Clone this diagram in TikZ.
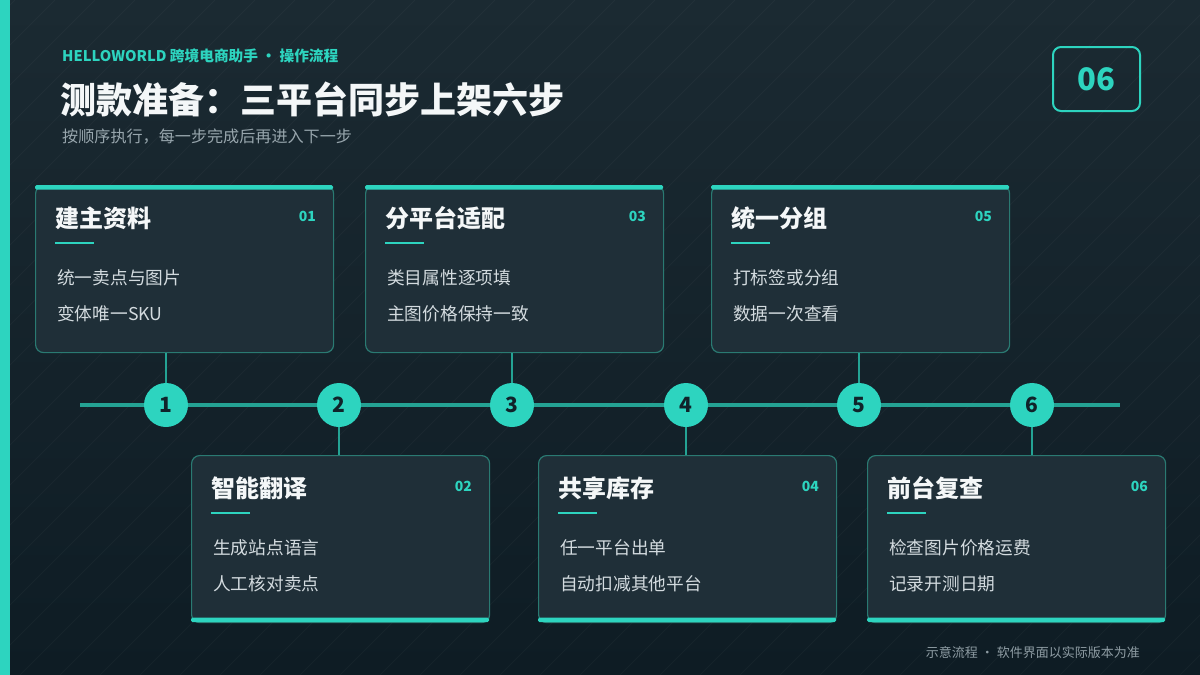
\documentclass[tikz,border=0pt]{standalone}
\usepackage{fontspec}
\setmainfont{Noto Sans CJK SC}
\usetikzlibrary{calc}
\definecolor{accent}{HTML}{2DD4BF}
\definecolor{bgtop}{HTML}{1B2A32}
\definecolor{bgbot}{HTML}{0E1C24}
\definecolor{cardfill}{HTML}{1F2F38}
\definecolor{cardline}{HTML}{2A7A72}
\definecolor{lineteal}{HTML}{24A394}
\definecolor{titlewhite}{HTML}{F4F7F8}
\definecolor{itemtext}{HTML}{D3DBDF}
\definecolor{subgrey}{HTML}{98A6AD}
\definecolor{footgrey}{HTML}{8E9CA3}
\definecolor{dotnum}{HTML}{10232A}
\tikzset{
  card/.style={draw=cardline, fill=cardfill, rounded corners=8pt, line width=1.2pt,
    minimum width=298pt, minimum height=167pt, inner sep=0pt},
  cardtitle/.style={anchor=west, inner sep=0pt, text=titlewhite, font=\bfseries\fontsize{24}{28}\selectfont},
  cardnum/.style={anchor=east, inner sep=0pt, text=accent, font=\bfseries\fontsize{14}{16}\selectfont},
  carditem/.style={anchor=west, inner sep=0pt, text=itemtext, font=\fontsize{17.7}{21}\selectfont},
  underl/.style={draw=accent, line width=2pt},
  dot/.style={circle, fill=accent, minimum size=44pt, inner sep=0pt, text=dotnum,
    font=\bfseries\fontsize{21}{24}\selectfont},
  timeline/.style={draw=lineteal, line width=4pt},
  conn/.style={draw=lineteal, line width=2pt},
  stripe/.style={draw=white, opacity=0.03, line width=1pt}
}
\newcommand\stepcard[8]{%
  \pgfmathsetmacro\cl{#2}\pgfmathsetmacro\ct{#3}%
  \node[card, anchor=north west] (#1) at (\cl,\ct) {};
  \ifnum#8=0
    \fill[accent, rounded corners=1.5pt] (\cl,\ct) rectangle ++(298,4.5);
  \else
    \fill[accent, rounded corners=1.5pt] (\cl,\ct+162.5) rectangle ++(298,4.5);
  \fi
  \node[cardtitle] (#1t) at (\cl+20,\ct+33) {#5};
  \node[cardnum] (#1n) at (\cl+281,\ct+31) {#4};
  \coordinate (#1ua) at (\cl+20,\ct+58);
  \coordinate (#1ub) at (\cl+59,\ct+58);
  \draw[underl] (#1ua) -- (#1ub);
  \node[carditem] (#1a) at (\cl+22,\ct+93) {#6};
  \node[carditem] (#1b) at (\cl+22,\ct+129) {#7};
}
\begin{document}
\begin{tikzpicture}[x=1pt,y=-1pt]
\useasboundingbox (0,0) rectangle (1200,675);
\shade[top color=bgtop, bottom color=bgbot] (0,0) rectangle (1200,675);
\begin{scope}
  \clip (0,0) rectangle (1200,675);
  \foreach \i in {-700,-660,...,1200} \draw[stripe] (\i,675) -- ++(675,-675);
\end{scope}
\fill[accent] (0,0) rectangle (10,675);

% header
\node[anchor=west, inner sep=0pt, text=accent, font=\bfseries\fontsize{14.7}{17}\selectfont] (hdr) at (62,56) {HELLOWORLD 跨境电商助手 · 操作流程};
\node[anchor=west, inner sep=0pt, text=titlewhite, font=\bfseries\fontsize{36}{40}\selectfont] (ttl) at (60,99) {测款准备：三平台同步上架六步};
\node[anchor=west, inner sep=0pt, text=subgrey, font=\fontsize{16.1}{19}\selectfont] (sub) at (62,137) {按顺序执行，每一步完成后再进入下一步};
\node[draw=accent, line width=2pt, rounded corners=8pt, minimum width=87pt, minimum height=64pt,
  text=accent, font=\bfseries\fontsize{31}{34}\selectfont] (badge) at (1096.5,79) {06};

% timeline
\coordinate (tl) at (80,405);
\coordinate (tr) at (1120,405);
\draw[timeline] (tl) -- (tr);

% cards
\stepcard{c1}{35}{185}{01}{建主资料}{统一卖点与图片}{变体唯一SKU}{0}
\stepcard{c3}{365}{185}{03}{分平台适配}{类目属性逐项填}{主图价格保持一致}{0}
\stepcard{c5}{711}{185}{05}{统一分组}{打标签或分组}{数据一次查看}{0}
\stepcard{c2}{191}{455}{02}{智能翻译}{生成站点语言}{人工核对卖点}{1}
\stepcard{c4}{538}{455}{04}{共享库存}{任一平台出单}{自动扣减其他平台}{1}
\stepcard{c6}{867}{455}{06}{前台复查}{检查图片价格运费}{记录开测日期}{1}

% dots
\node[dot] (n1) at (166,405) {1};
\node[dot] (n2) at (339,405) {2};
\node[dot] (n3) at (512,405) {3};
\node[dot] (n4) at (686,405) {4};
\node[dot] (n5) at (859,405) {5};
\node[dot] (n6) at (1032,405) {6};

% connectors
\draw[conn] (c1.south -| n1) -- (n1.north);
\draw[conn] (c3.south -| n3) -- (n3.north);
\draw[conn] (c5.south -| n5) -- (n5.north);
\draw[conn] (n2.south) -- (n2 |- c2.north);
\draw[conn] (n4.south) -- (n4 |- c4.north);
\draw[conn] (n6.south) -- (n6 |- c6.north);

% footer
\node[anchor=east, inner sep=0pt, text=footgrey, font=\fontsize{13}{16}\selectfont] (foot) at (1140,653) {示意流程 · 软件界面以实际版本为准};
\end{tikzpicture}
\end{document}
